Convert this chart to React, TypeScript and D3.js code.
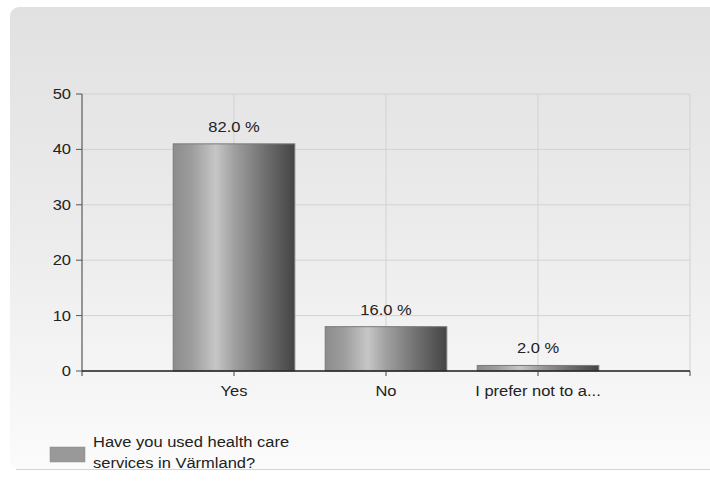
import React from "react";
import * as d3 from "d3";

const categories = ["Yes", "No", "I prefer not to a..."];
const counts = [41, 8, 1];
const percentLabels = ["82.0 %", "16.0 %", "2.0 %"];
const yTicks = [0, 10, 20, 30, 40, 50];
const legendLines = ["Have you used health care", "services in Värmland?"];

const W = 710;
const H = 500;
const left = 82;
const right = 690;
const top = 94;
const bottom = 371;
const SX = 1.1;

function T({ x, y, anchor, size, children }: any) {
  return (
    <g transform={`translate(${x},${y}) scale(${SX},1)`}>
      <text x={0} y={0} textAnchor={anchor || "start"} fontSize={size || 15} fill="#222">
        {children}
      </text>
    </g>
  );
}

export default function App() {
  const y = d3.scaleLinear().domain([0, 50]).range([bottom, top]);
  const x = d3.scaleLinear().domain([0, 4]).range([left, right]);
  const step = (right - left) / 4;
  const barW = step * 0.8;
  const font = "'Liberation Sans', Arial, sans-serif";

  return (
    <svg width={W} height={H} style={{ position: "absolute", left: 0, top: 0 }} fontFamily={font}>
      <defs>
        <linearGradient id="bg" x1="0" y1="0" x2="0" y2="1">
          <stop offset="0" stopColor="#e1e1e1" />
          <stop offset="0.5" stopColor="#ececec" />
          <stop offset="1" stopColor="#fbfbfb" />
        </linearGradient>
        <linearGradient id="bar" x1="0" y1="0" x2="1" y2="0">
          <stop offset="0" stopColor="#8c8c8c" />
          <stop offset="0.15" stopColor="#9c9c9c" />
          <stop offset="0.35" stopColor="#c6c6c6" />
          <stop offset="0.5" stopColor="#a0a0a0" />
          <stop offset="0.75" stopColor="#707070" />
          <stop offset="1" stopColor="#444444" />
        </linearGradient>
      </defs>
      <rect x={0} y={0} width={W} height={H} fill="#ffffff" />
      <rect x={10} y={7} width={720} height={462} rx={9} ry={9} fill="url(#bg)" />
      <line x1={16} x2={720} y1={469.5} y2={469.5} stroke="#d4d4d4" strokeWidth={1} />

      {yTicks.map((t) => (
        <line key={"g" + t} x1={left} x2={right} y1={y(t)} y2={y(t)} stroke="#d2d2d2" strokeWidth={1} />
      ))}
      {[1, 2, 3, 4].map((i) => (
        <line key={"v" + i} x1={x(i)} x2={x(i)} y1={top} y2={bottom} stroke="#d2d2d2" strokeWidth={1} />
      ))}

      {counts.map((c, i) => (
        <rect
          key={"b" + i}
          x={x(i + 1) - barW / 2}
          y={y(c)}
          width={barW}
          height={bottom - y(c)}
          fill="url(#bar)"
          stroke="#7a7a7a"
          strokeWidth={1}
        />
      ))}
      {percentLabels.map((l, i) => (
        <T key={"p" + i} x={x(i + 1)} y={y(counts[i]) - 12} anchor="middle">
          {l}
        </T>
      ))}

      <line x1={left} x2={left} y1={top} y2={bottom + 5} stroke="#777" strokeWidth={1.5} />
      {yTicks.map((t) => (
        <g key={"yt" + t}>
          <line x1={left - 6} x2={left} y1={y(t)} y2={y(t)} stroke="#555" strokeWidth={1} />
          <T x={left - 11} y={y(t) + 5} anchor="end">
            {t}
          </T>
        </g>
      ))}

      <line x1={left} x2={right} y1={bottom} y2={bottom} stroke="#222" strokeWidth={1.5} />
      {[1, 2, 3, 4].map((i) => (
        <line key={"xt" + i} x1={x(i)} x2={x(i)} y1={bottom} y2={bottom + 5} stroke="#444" strokeWidth={1} />
      ))}
      {categories.map((c, i) => (
        <T key={"c" + i} x={x(i + 1)} y={bottom + 25} anchor="middle">
          {c}
        </T>
      ))}

      <rect x={50} y={447} width={35} height={15} fill="#999" stroke="#888" strokeWidth={0.5} />
      {legendLines.map((l, i) => (
        <T key={"l" + i} x={93} y={447 + i * 21} size={15}>
          {l}
        </T>
      ))}
    </svg>
  );
}
